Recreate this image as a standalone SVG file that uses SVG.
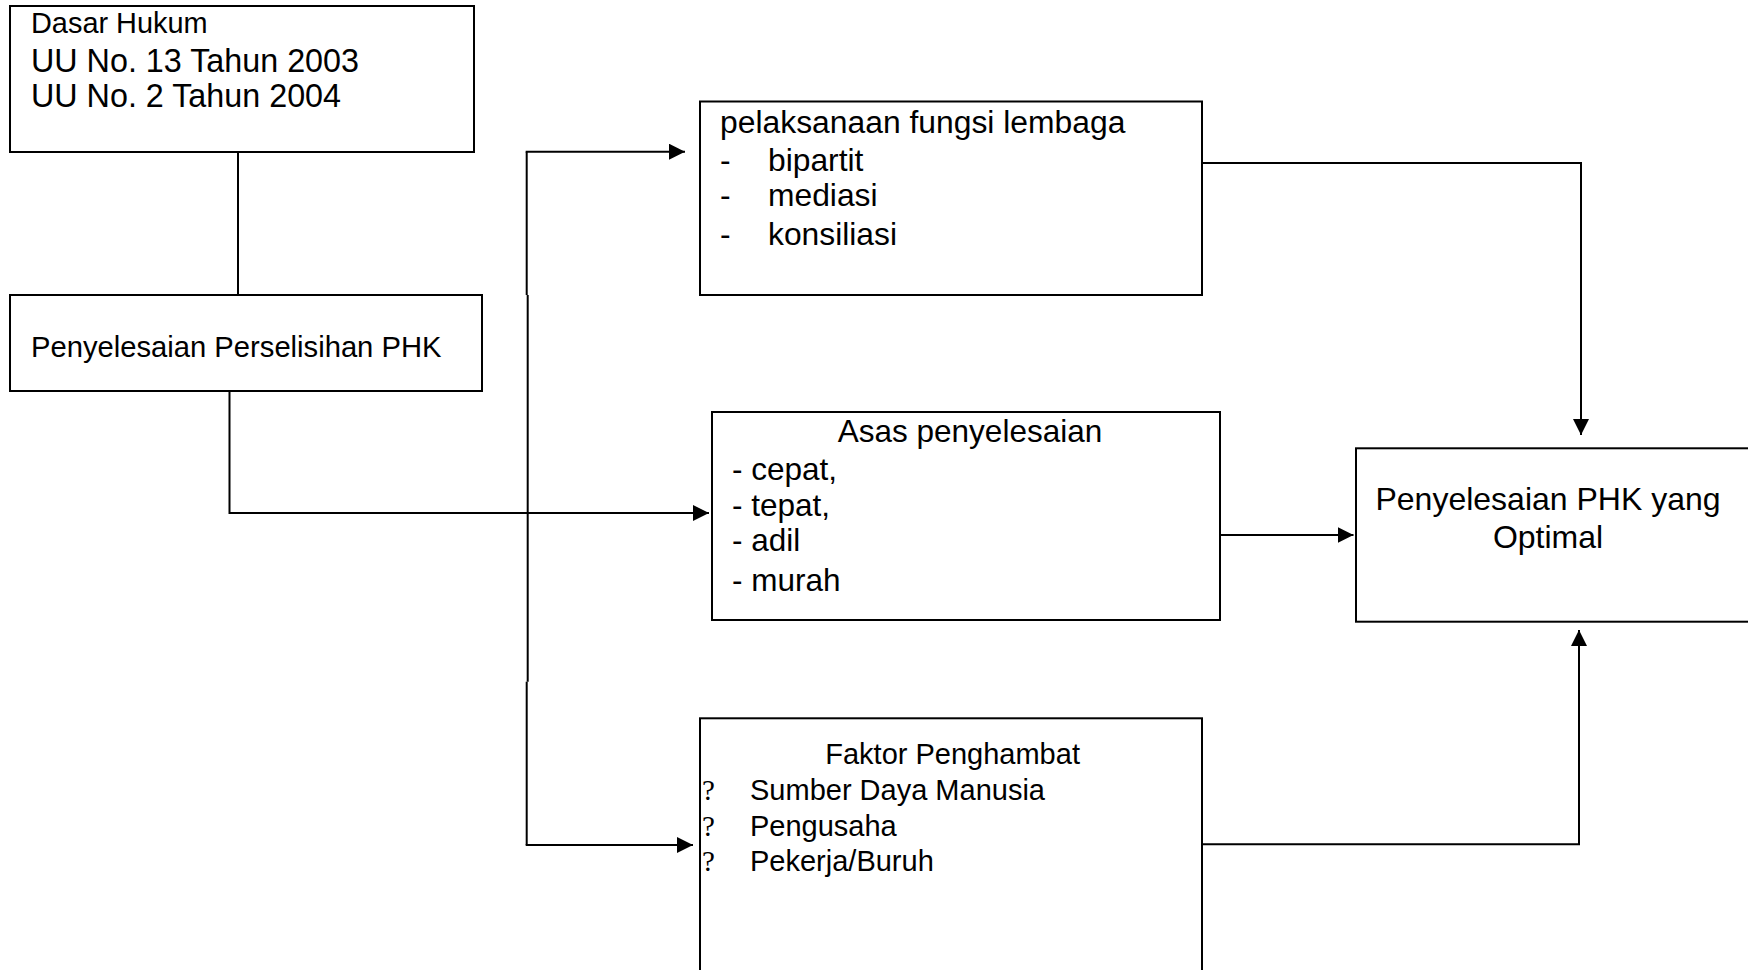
<svg xmlns="http://www.w3.org/2000/svg" width="1748" height="970" viewBox="0 0 1748 970">
<defs>
<style>
.box{fill:#fff;stroke:#000;stroke-width:2}
.ln{fill:none;stroke:#000;stroke-width:2}
.t{font-family:"Liberation Sans",Arial,sans-serif;fill:#000}
.q{font-family:"Liberation Serif","Times New Roman",serif;fill:#000}
</style>
<marker id="ah" markerWidth="16" markerHeight="16" refX="16" refY="8" orient="auto" markerUnits="userSpaceOnUse">
<path d="M0,0 L16,8 L0,16 Z" fill="#000"/>
</marker>
</defs>
<rect width="1748" height="970" fill="#fff"/>

<g id="connectors">
<line class="ln" x1="238" y1="152" x2="238" y2="295"/>
<polyline class="ln" points="229.5,391 229.5,513 709,513" marker-end="url(#ah)"/>
<line class="ln" x1="526.7" y1="151.7" x2="526.7" y2="295"/>
<line class="ln" x1="527.7" y1="295" x2="527.7" y2="681.7"/>
<line class="ln" x1="526.7" y1="681.7" x2="526.7" y2="845"/>
<line class="ln" x1="525.7" y1="151.7" x2="685" y2="151.7" marker-end="url(#ah)"/>
<line class="ln" x1="525.7" y1="845" x2="693" y2="845" marker-end="url(#ah)"/>
<polyline class="ln" points="1202,163 1581,163 1581,435" marker-end="url(#ah)"/>
<line class="ln" x1="1220" y1="535" x2="1353.5" y2="535" marker-end="url(#ah)"/>
<polyline class="ln" points="1202,844.3 1579,844.3 1579,630" marker-end="url(#ah)"/>
</g>

<g id="node-dasar-hukum">
<rect class="box" x="10" y="6" width="464" height="146"/>
<text class="t" x="31" y="33.3" font-size="28.9">Dasar Hukum</text>
<text class="t" x="31" y="71.7" font-size="32.3">UU No. 13 Tahun 2003</text>
<text class="t" x="31" y="107.3" font-size="32.3">UU No. 2 Tahun 2004</text>
</g>

<g id="node-penyelesaian-perselisihan">
<rect class="box" x="10" y="295" width="472" height="96"/>
<text class="t" x="31" y="357" font-size="29.2">Penyelesaian Perselisihan PHK</text>
</g>

<g id="node-pelaksanaan">
<rect class="box" x="700" y="101.5" width="502" height="193.5"/>
<text class="t" x="720" y="132.6" font-size="31.85">pelaksanaan fungsi lembaga</text>
<text class="t" x="720" y="170.5" font-size="31.8">-</text>
<text class="t" x="768" y="170.5" font-size="31.8">bipartit</text>
<text class="t" x="720" y="206.2" font-size="31.8">-</text>
<text class="t" x="768" y="206.2" font-size="31.8">mediasi</text>
<text class="t" x="720" y="245.2" font-size="31.8">-</text>
<text class="t" x="768" y="245.2" font-size="31.8">konsiliasi</text>
</g>

<g id="node-asas">
<rect class="box" x="712" y="412" width="508" height="208"/>
<text class="t" x="970" y="442" font-size="31.5" text-anchor="middle">Asas penyelesaian</text>
<text class="t" x="732" y="479.5" font-size="31.5">- cepat,</text>
<text class="t" x="732" y="515.5" font-size="31.5">- tepat,</text>
<text class="t" x="732" y="551" font-size="31.5">- adil</text>
<text class="t" x="732" y="591" font-size="31.5">- murah</text>
</g>

<g id="node-optimal">
<rect class="box" x="1356" y="448.3" width="420" height="173.4"/>
<text class="t" x="1548" y="510" font-size="32" text-anchor="middle">Penyelesaian PHK yang</text>
<text class="t" x="1548" y="547.7" font-size="32" text-anchor="middle">Optimal</text>
</g>

<g id="node-faktor">
<rect class="box" x="700" y="718.3" width="502" height="300"/>
<text class="t" x="952.6" y="763.5" font-size="29" text-anchor="middle">Faktor Penghambat</text>
<text class="q" x="702" y="800" font-size="29">?</text>
<text class="t" x="750" y="800" font-size="29">Sumber Daya Manusia</text>
<text class="q" x="702" y="836" font-size="29">?</text>
<text class="t" x="750" y="836" font-size="29">Pengusaha</text>
<text class="q" x="702" y="871" font-size="29">?</text>
<text class="t" x="750" y="871" font-size="29">Pekerja/Buruh</text>
</g>
</svg>
